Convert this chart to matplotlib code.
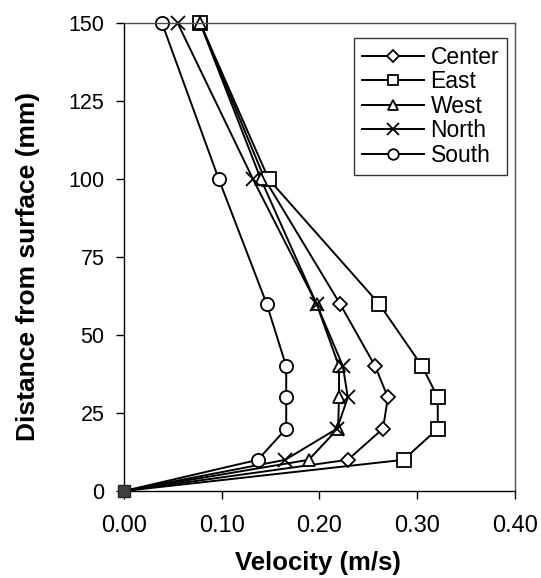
import matplotlib
matplotlib.use("Agg")
import matplotlib.pyplot as plt

plt.rcParams['font.family'] = ['Liberation Sans', 'DejaVu Sans']

depth = [0, 10, 20, 30, 40, 60, 100, 150]
center = [0.0, 0.229, 0.265, 0.270, 0.257, 0.221, 0.144, 0.078]
east = [0.0, 0.286, 0.321, 0.321, 0.305, 0.261, 0.148, 0.078]
west = [0.0, 0.189, 0.219, 0.220, 0.220, 0.197, 0.140, 0.078]
north = [0.0, 0.165, 0.218, 0.229, 0.224, 0.197, 0.132, 0.055]
south = [0.0, 0.137, 0.166, 0.166, 0.166, 0.146, 0.097, 0.039]

series = [("Center", center, "D", 7.5),
          ("East", east, "s", 9.5),
          ("West", west, "^", 9),
          ("North", north, "x", 10),
          ("South", south, "o", 9.5)]

fig = plt.figure(figsize=(5.41, 5.78), dpi=100)
ax = fig.add_axes([0.229, 0.1505, 0.723, 0.8095])

for name, vals, mk, ms in series:
    ax.plot(vals, depth, color="black", lw=1.4, marker=mk, ms=ms,
            mfc="white", mec="black", mew=1.3, markevery=slice(1, None),
            clip_on=False, label=name)

# filled marker where all profiles meet at the surface
ax.plot(east[:1], depth[:1], "s", ms=9, mfc="0.25", mec="0.15",
        clip_on=False, zorder=5)

ax.set_xlim(0, 0.4)
ax.set_ylim(0, 150)
ax.set_xticks([0.0, 0.1, 0.2, 0.3, 0.4])
ax.set_xticklabels(["%.2f" % t for t in ax.get_xticks()])
ax.set_yticks(range(0, 151, 25))
ax.tick_params(axis="x", direction="out", length=6, width=1, labelsize=17, pad=11)
ax.tick_params(axis="y", direction="out", length=6, width=1, labelsize=15.5, pad=8)
for s in ax.spines.values():
    s.set_linewidth(1.0)
ax.spines["top"].set_color("0.3")
ax.spines["right"].set_color("0.3")

ax.set_xlabel("Velocity (m/s)", fontsize=18.5, fontweight="bold", va="top")
ax.xaxis.set_label_coords(0.496, -0.128)
ax.set_ylabel("Distance from surface (mm)", fontsize=19, fontweight="bold")
ax.yaxis.set_label_coords(-0.215, 0.48)

leg = ax.legend(loc="upper right", bbox_to_anchor=(0.98, 0.968), fontsize=16.5,
                frameon=True, fancybox=False, edgecolor="black",
                handlelength=2.7, handletextpad=0.3, labelspacing=0.06,
                borderpad=0.35, borderaxespad=0, markerscale=0.8)
leg.get_frame().set_linewidth(1.0)

fig.savefig("out.png", dpi=100)
